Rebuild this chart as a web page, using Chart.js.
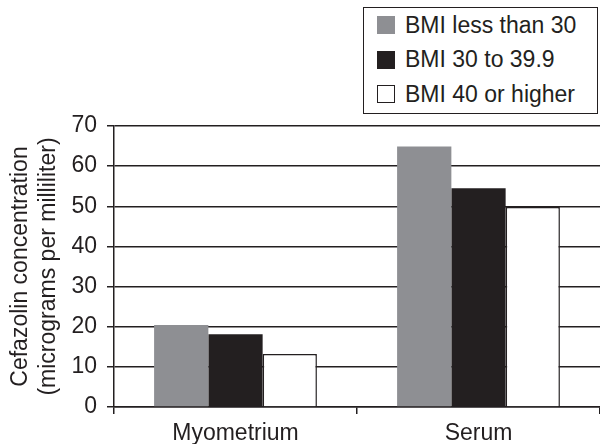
<!DOCTYPE html>
<html>
<head>
<meta charset="utf-8">
<script src="https://cdn.jsdelivr.net/npm/chart.js@4/dist/chart.umd.min.js"></script>
<style>
  body { margin: 0; background: #fff; }
  #wrap { position: relative; width: 600px; height: 444px; }
  #legend {
    position: absolute; left: 363px; top: 7px; width: 233px; height: 105px;
    border: 1.5px solid #231f20; background: #fff;
    font-family: "Liberation Sans", Arial, sans-serif; font-size: 23px; color: #231f20;
  }
  .item { position: absolute; left: 13px; height: 24px; display: flex; align-items: center; }
  .swatch { width: 18px; height: 18px; box-sizing: border-box; margin-right: 10px; }
</style>
</head>
<body>
<div id="wrap">
  <canvas id="chart"></canvas>
  <div id="legend"></div>
</div>
<script>
// chart data
const categories = ['Myometrium', 'Serum'];
const seriesLabels = ['BMI less than 30', 'BMI 30 to 39.9', 'BMI 40 or higher'];
const bmiUnder30 = [20.4, 64.9];
const bmi30to39 = [18.1, 54.5];
const bmi40plus = [13.2, 49.8];
const yMin = 0;
const yMax = 70;
const yStep = 10;

const ink = '#231f20';
const fontFamily = '"Liberation Sans", Arial, sans-serif';

const ctx = document.getElementById('chart').getContext('2d');
const chart = new Chart(ctx, {
  type: 'bar',
  data: {
    labels: categories,
    datasets: [
      { label: seriesLabels[0], data: bmiUnder30, backgroundColor: '#8e8f93', borderWidth: 0 },
      { label: seriesLabels[1], data: bmi30to39, backgroundColor: ink, borderWidth: 0 },
      { label: seriesLabels[2], data: bmi40plus, backgroundColor: '#ffffff', borderColor: ink, borderWidth: 1.5 },
    ],
  },
  options: {
    responsive: true,
    maintainAspectRatio: false,
    animation: false,
    datasets: { bar: { barPercentage: 1, categoryPercentage: 0.67 } },
    layout: { padding: { top: 126, right: 0, bottom: 0, left: 0 } },
    plugins: { legend: { display: false }, tooltip: { enabled: false } },
    scales: {
      x: {
        offset: true,
        grid: { drawOnChartArea: false, drawTicks: true, tickLength: 7, color: ink, lineWidth: 1.5 },
        border: { display: true, color: ink, width: 1.5 },
        ticks: { font: { size: 23, family: fontFamily }, color: ink, padding: 6 },
        afterFit: (scale) => { scale.height = 37; },
      },
      y: {
        min: yMin,
        max: yMax,
        ticks: { stepSize: yStep, font: { size: 23, family: fontFamily }, color: ink, padding: 10 },
        grid: { color: ink, lineWidth: 1.5, tickLength: 7 },
        border: { display: true, color: ink, width: 1.5 },
        title: {
          display: true,
          text: ['Cefazolin concentration', '(micrograms per milliliter)'],
          font: { size: 23, family: fontFamily, lineHeight: 1.2 },
          color: ink,
          padding: { top: 7, bottom: 0 },
        },
        afterFit: (scale) => { scale.width = 114; },
      },
    },
  },
});

// legend built from the chart's datasets
const legend = document.getElementById('legend');
chart.data.datasets.forEach((ds, i) => {
  const item = document.createElement('div');
  item.className = 'item';
  item.style.top = (5 + i * 34.5) + 'px';
  const sw = document.createElement('span');
  sw.className = 'swatch';
  sw.style.background = ds.backgroundColor;
  if (ds.borderWidth) sw.style.border = '1.5px solid ' + ink;
  const txt = document.createElement('span');
  txt.textContent = ds.label;
  item.appendChild(sw);
  item.appendChild(txt);
  legend.appendChild(item);
});
</script>
</body>
</html>
